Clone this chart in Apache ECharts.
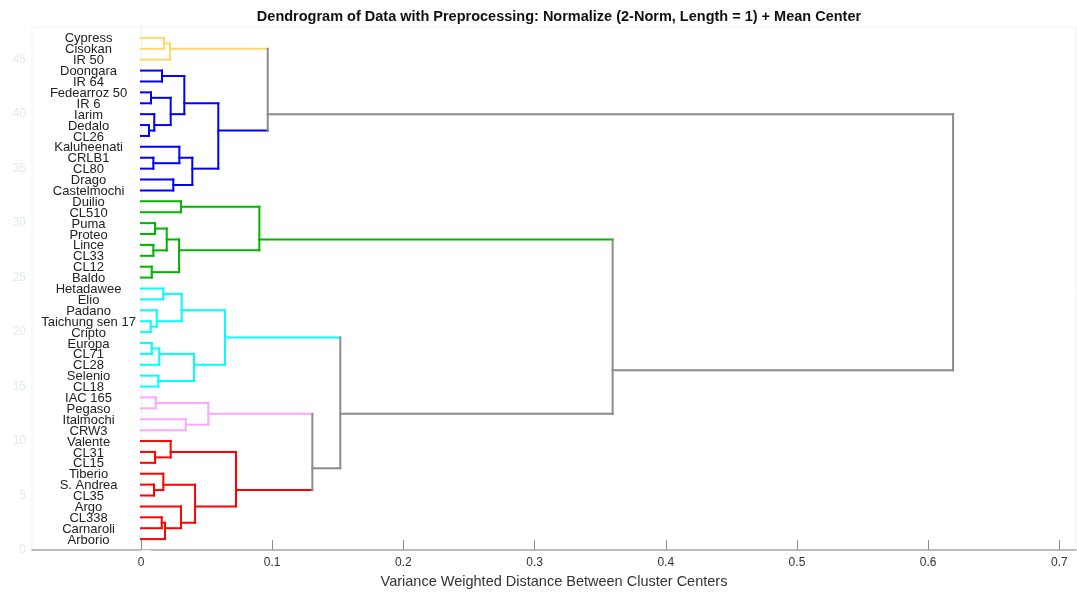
<!DOCTYPE html>
<html>
<head>
<meta charset="utf-8">
<script src="https://cdn.jsdelivr.net/npm/echarts@6/dist/echarts.min.js"></script>
<style>
  html, body { margin: 0; padding: 0; background: #ffffff; }
  #chart { width: 1077px; height: 594px; }
</style>
</head>
<body>
<div id="chart"></div>
<script>
// Leaves of the dendrogram, listed from top to bottom
const leafNames = [
  'Cypress', 'Cisokan', 'IR 50', 'Doongara', 'IR 64', 'Fedearroz 50', 'IR 6',
  'Iarim', 'Dedalo', 'CL26', 'Kaluheenati', 'CRLB1', 'CL80', 'Drago',
  'Castelmochi', 'Duilio', 'CL510', 'Puma', 'Proteo', 'Lince', 'CL33', 'CL12',
  'Baldo', 'Hetadawee', 'Elio', 'Padano', 'Taichung sen 17', 'Cripto', 'Europa',
  'CL71', 'CL28', 'Selenio', 'CL18', 'IAC 165', 'Pegaso', 'Italmochi', 'CRW3',
  'Valente', 'CL31', 'CL15', 'Tiberio', 'S. Andrea', 'CL35', 'Argo', 'CL338',
  'Carnaroli', 'Arborio'
];

// Linkage: [node, child A, child B, distance between cluster centers]
const merges = [
  ['y1', 'Cypress', 'Cisokan', 0.0175],
  ['y2', 'y1', 'IR 50', 0.0221],
  ['b1', 'Doongara', 'IR 64', 0.0160],
  ['b2', 'Fedearroz 50', 'IR 6', 0.0076],
  ['b3', 'Dedalo', 'CL26', 0.0061],
  ['b4', 'Iarim', 'b3', 0.0101],
  ['b5', 'b2', 'b4', 0.0226],
  ['b6', 'b1', 'b5', 0.0330],
  ['b7', 'CRLB1', 'CL80', 0.0094],
  ['b8', 'Kaluheenati', 'b7', 0.0292],
  ['b9', 'Drago', 'Castelmochi', 0.0246],
  ['b10', 'b8', 'b9', 0.0391],
  ['b11', 'b6', 'b10', 0.0589],
  ['g1', 'Duilio', 'CL510', 0.0305],
  ['g2', 'Puma', 'Proteo', 0.0107],
  ['g3', 'Lince', 'CL33', 0.0094],
  ['g4', 'g2', 'g3', 0.0196],
  ['g5', 'CL12', 'Baldo', 0.0082],
  ['g6', 'g4', 'g5', 0.0290],
  ['g7', 'g1', 'g6', 0.0902],
  ['c1', 'Hetadawee', 'Elio', 0.0170],
  ['c2', 'Taichung sen 17', 'Cripto', 0.0074],
  ['c3', 'Padano', 'c2', 0.0120],
  ['c4', 'c1', 'c3', 0.0310],
  ['c5', 'Europa', 'CL71', 0.0082],
  ['c6', 'c5', 'CL28', 0.0139],
  ['c7', 'Selenio', 'CL18', 0.0132],
  ['c8', 'c6', 'c7', 0.0404],
  ['c9', 'c4', 'c8', 0.0640],
  ['p1', 'IAC 165', 'Pegaso', 0.0112],
  ['p2', 'Italmochi', 'CRW3', 0.0341],
  ['p3', 'p1', 'p2', 0.0513],
  ['r1', 'CL31', 'CL15', 0.0107],
  ['r2', 'Valente', 'r1', 0.0226],
  ['r3', 'S. Andrea', 'CL35', 0.0099],
  ['r4', 'Tiberio', 'r3', 0.0170],
  ['r5', 'CL338', 'Carnaroli', 0.0158],
  ['r6', 'r5', 'Arborio', 0.0183],
  ['r7', 'Argo', 'r6', 0.0305],
  ['r8', 'r4', 'r7', 0.0412],
  ['r9', 'r2', 'r8', 0.0724],
  ['t1', 'y2', 'b11', 0.0966],
  ['t2', 'p3', 'r9', 0.1306],
  ['t3', 'c9', 't2', 0.1519],
  ['t4', 'g7', 't3', 0.3595],
  ['t5', 't1', 't4', 0.6190]
];

// Clusters below the cut get their own colour, top to bottom
const cutDistance = 0.093;
const clusterPalette = ['#FFD966', '#0000FF', '#00B400', '#00FFFF', '#FFA6FF', '#FF0000'];
const linkGray = '#8C8C8C';

// Axis ticks
const xTicks = [0, 0.1, 0.2, 0.3, 0.4, 0.5, 0.6, 0.7];
const yTicks = [0, 5, 10, 15, 20, 25, 30, 35, 40, 45];

// ---- build node geometry from the linkage ----
const nodes = {};
leafNames.forEach((name, i) => {
  const pos = leafNames.length - i;
  nodes[name] = { h: 0, sum: pos, n: 1, y: pos, parent: null };
});
merges.forEach(([id, a, b, h]) => {
  const A = nodes[a], B = nodes[b];
  const sum = A.sum + B.sum, n = A.n + B.n;
  nodes[id] = { h, sum, n, y: sum / n, a, b, parent: null };
  A.parent = id; B.parent = id;
});

// cluster roots: below the cut, parent above it
const roots = Object.keys(nodes).filter(k => {
  const nd = nodes[k];
  return nd.h <= cutDistance && nd.parent && nodes[nd.parent].h > cutDistance;
}).sort((p, q) => nodes[q].y - nodes[p].y);
roots.forEach((k, i) => {
  const paint = (key) => {
    const nd = nodes[key];
    nd.color = clusterPalette[i % clusterPalette.length];
    if (nd.a) { paint(nd.a); paint(nd.b); }
  };
  paint(k);
});
Object.values(nodes).forEach(nd => { if (!nd.color) nd.color = linkGray; });

// segments: [x1, y1, x2, y2, colour]
const segments = [];
merges.forEach(([id, a, b]) => {
  const P = nodes[id], A = nodes[a], B = nodes[b];
  segments.push([A.h, A.y, P.h, A.y, A.color]);
  segments.push([B.h, B.y, P.h, B.y, B.color]);
  segments.push([P.h, A.y, P.h, B.y, P.color]);
});

const labelData = leafNames.map((name, i) => [-0.040, nodes[name].y, name]);

const chart = echarts.init(document.getElementById('chart'), null, { renderer: 'canvas' });
const fontFamily = '"Liberation Sans", Arial, sans-serif';

chart.setOption({
  animation: false,
  backgroundColor: '#ffffff',
  title: {
    text: 'Dendrogram of Data with Preprocessing: Normalize (2-Norm, Length = 1) + Mean Center',
    left: 554,
    top: 4,
    textAlign: 'center',
    textStyle: { fontFamily, fontSize: 14.5, fontWeight: 'bold', color: '#111111' }
  },
  grid: {
    left: 32, right: 1, top: 27, bottom: 43,
    show: true, borderColor: '#f2f2f2', borderWidth: 1, backgroundColor: 'transparent'
  },
  xAxis: {
    type: 'value',
    min: -0.0831,
    max: 0.7127,
    name: 'Variance Weighted Distance Between Cluster Centers',
    nameLocation: 'middle',
    nameGap: 24,
    nameTextStyle: { fontFamily, fontSize: 14.5, color: '#333333' },
    splitLine: { show: false },
    axisLine: { show: true, onZero: false, lineStyle: { color: '#a6a6a6', width: 1.5 } },
    axisTick: { show: true, inside: true, length: 10, customValues: xTicks, lineStyle: { color: '#8c8c8c' } },
    axisLabel: {
      customValues: xTicks, margin: 7,
      fontFamily, fontSize: 12, color: '#333333',
      formatter: v => String(Math.round(v * 10) / 10)
    }
  },
  yAxis: {
    type: 'value',
    min: 0,
    max: 48,
    splitLine: { show: false },
    axisLine: { show: true, lineStyle: { color: '#f0f0f0', width: 1 } },
    axisTick: { show: true, inside: true, length: 10, customValues: yTicks, lineStyle: { color: '#eeeeee' } },
    axisLabel: {
      customValues: yTicks, margin: 6,
      fontFamily, fontSize: 12, color: '#e3eaef'
    }
  },
  series: [
    {
      type: 'custom',
      name: 'links',
      coordinateSystem: 'cartesian2d',
      clip: false,
      data: segments,
      encode: { x: [0, 2], y: [1, 3] },
      renderItem: (params, api) => {
        const p1 = api.coord([api.value(0), api.value(1)]);
        const p2 = api.coord([api.value(2), api.value(3)]);
        const c = segments[params.dataIndex][4];
        return {
          type: 'line',
          shape: { x1: p1[0], y1: p1[1], x2: p2[0], y2: p2[1] },
          style: { stroke: c, lineWidth: 2, lineCap: 'square' }
        };
      }
    },
    {
      type: 'custom',
      name: 'leaves',
      coordinateSystem: 'cartesian2d',
      data: labelData,
      encode: { x: 0, y: 1 },
      renderItem: (params, api) => {
        const p = api.coord([api.value(0), api.value(1)]);
        return {
          type: 'text',
          x: p[0], y: p[1] + 1,
          style: {
            text: labelData[params.dataIndex][2],
            align: 'center', verticalAlign: 'middle',
            font: '13px ' + fontFamily, fill: '#222222'
          }
        };
      }
    }
  ]
});
</script>
</body>
</html>
